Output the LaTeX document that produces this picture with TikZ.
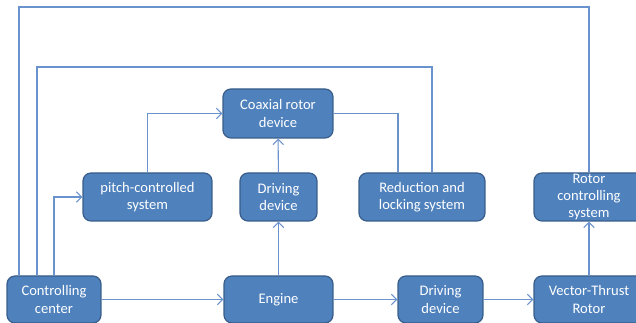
\documentclass[tikz,border=0pt]{standalone}
\usepackage{fontspec}
\setmainfont{Carlito}
\usepackage{xcolor}
\usetikzlibrary{arrows.meta}

\definecolor{boxfill}{HTML}{4F81BD}
\definecolor{boxedge}{HTML}{385D8A}
\definecolor{wire}{HTML}{6A92CC}

\begin{document}
\begin{tikzpicture}[x=0.02cm,y=-0.02cm,
  block/.style={draw=boxedge,fill=boxfill,line width=0.7pt,rounded corners=0.16cm,
    text=white,align=center,inner sep=0pt,font=\fontsize{8.3}{9.8}\selectfont},
  wire/.style={draw=wire,line width=0.6pt}]
\clip (0,0) rectangle (636,323);

\node[block,minimum width=1.88cm,minimum height=0.94cm] (1) at (54,299.5) {Controlling\\center};
\node[block,minimum width=2.18cm,minimum height=0.94cm] (2) at (278.5,299.5) {Engine};
\node[block,minimum width=1.70cm,minimum height=0.94cm] (3) at (440.5,299.5) {Driving\\device};
\node[block,minimum width=2.20cm,minimum height=0.94cm] (4) at (589,299.5) {Vector-Thrust\\Rotor};

\node[block,minimum width=2.58cm,minimum height=0.96cm] (5) at (147.5,197) {pitch-controlled\\system};
\node[block,minimum width=1.54cm,minimum height=0.96cm] (6) at (278.5,197) {Driving\\device};
\node[block,minimum width=2.52cm,minimum height=0.96cm] (7) at (422,197) {Reduction and\\locking system};
\node[block,minimum width=2.20cm,minimum height=0.96cm] (8) at (589,197) {Rotor\\controlling\\system};

\node[block,minimum width=2.20cm,minimum height=0.98cm] (9) at (278,113.5) {Coaxial rotor\\device};

\coordinate (top) at (0,7);
\coordinate (mid) at (0,67);
\coordinate (7a) at ([xshift=0.20cm]7.north);

% bottom chain
\draw[wire,->,>={Straight Barb[length=3pt,width=6pt]}] (1) -- (2);
\draw[wire,->,>={Straight Barb[length=3pt,width=6pt]}] (2) -- (3);
\draw[wire,->,>={Straight Barb[length=3pt,width=6pt]}] (3) -- (4);
\draw[wire,->,>={Straight Barb[length=3pt,width=6pt]}] (4) -- (8);

% up to the coaxial rotor
\draw[wire,->,>={Straight Barb[length=3pt,width=6pt]}] (2) -- (6);
\draw[wire,->,>={Straight Barb[length=3pt,width=6pt]}] (6) -- (9);
\draw[wire,->,>={Straight Barb[length=3pt,width=6pt]}] (1.north) |- (5.west);
\draw[wire,->,>={Straight Barb[length=3pt,width=6pt]}] (5.north) |- (9.west);
\draw[wire] ([xshift=-0.48cm]7.north) |- (9.east);

% feedback loops over the top
\draw[wire] ([xshift=-0.34cm]1.north) |- (mid -| 7a) -- (7a);
\draw[wire] ([xshift=-0.70cm]1.north) |- (top -| 8.north) -- (8.north);
\end{tikzpicture}
\end{document}
